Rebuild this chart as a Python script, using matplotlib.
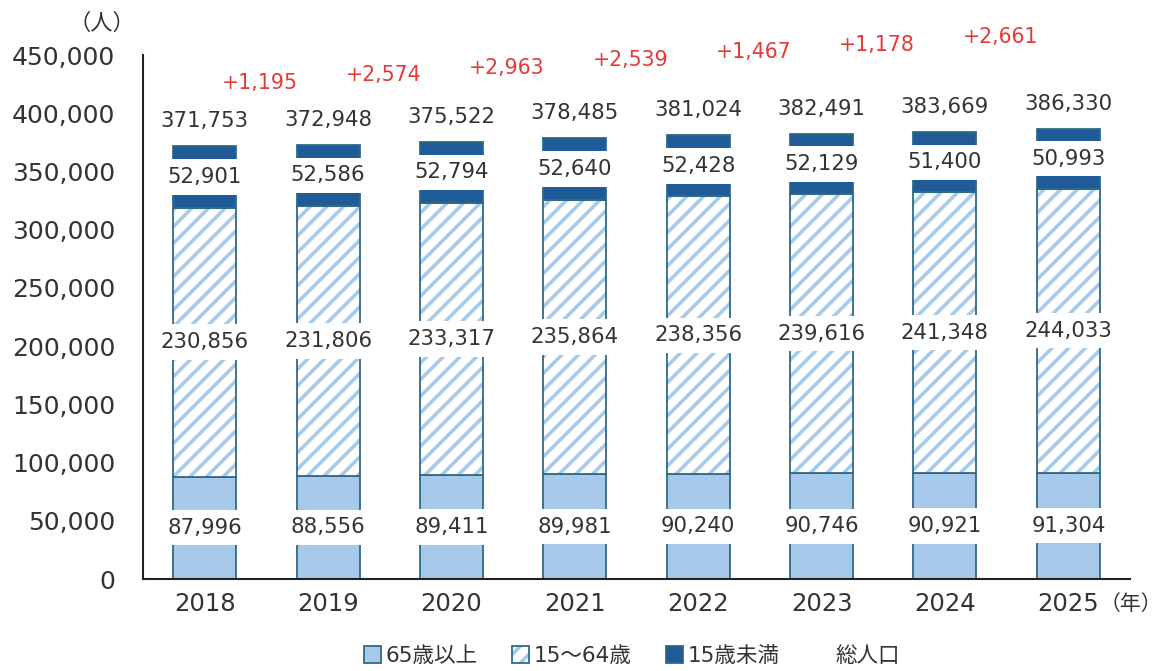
import matplotlib
matplotlib.use('Agg')
import matplotlib.pyplot as plt
from matplotlib.patches import Patch
from matplotlib.legend_handler import HandlerTuple
import numpy as np

plt.rcParams['font.family'] = ['DejaVu Sans', 'Noto Sans CJK JP']
plt.rcParams['hatch.linewidth'] = 2.6

# ---- data ----
years = ['2018', '2019', '2020', '2021', '2022', '2023', '2024', '2025']
age65_plus = [87996, 88556, 89411, 89981, 90240, 90746, 90921, 91304]
age15_64 = [230856, 231806, 233317, 235864, 238356, 239616, 241348, 244033]
under15 = [52901, 52586, 52794, 52640, 52428, 52129, 51400, 50993]
totals = [371753, 372948, 375522, 378485, 381024, 382491, 383669, 386330]
changes = [1195, 2574, 2963, 2539, 1467, 1178, 2661]
yticks = [0, 50000, 100000, 150000, 200000, 250000, 300000, 350000, 400000, 450000]
legend_labels = ['65歳以上', '15～64歳', '15歳未満', '総人口']

# ---- style ----
C_LIGHT = '#A7CAEA'
C_DARK = '#1F5B96'
C_EDGE = '#2E6A88'
C_TEXT = '#333333'
C_RED = '#E53935'

fig = plt.figure(figsize=(11.61, 6.71), dpi=100)
ax = fig.add_axes([0.1232, 0.1371, 0.8501, 0.7809])

x = np.arange(len(years))
w = 0.51
a = np.array(age65_plus)
b = np.array(age15_64)
c = np.array(under15)

ax.bar(x, a, w, color=C_LIGHT, edgecolor=C_EDGE, linewidth=1.3, zorder=2)
ax.bar(x, b, w, bottom=a, color='white', edgecolor=C_LIGHT, hatch='//',
       linewidth=0, zorder=2)
ax.bar(x, b, w, bottom=a, fill=False, edgecolor=C_EDGE, linewidth=1.3, zorder=2.1)
ax.bar(x, c, w, bottom=a + b, color=C_DARK, edgecolor=C_EDGE, linewidth=1.3, zorder=2)

box = dict(boxstyle='square,pad=0.36', fc='white', ec='none')
for i in range(len(years)):
    ax.text(x[i], a[i] / 2, f'{a[i]:,}', ha='center', va='center', fontsize=15.3,
            color=C_TEXT, bbox=box, zorder=5)
    ax.text(x[i], a[i] + b[i] / 2, f'{b[i]:,}', ha='center', va='center', fontsize=15.3,
            color=C_TEXT, bbox=box, zorder=5)
    ax.text(x[i], a[i] + b[i] + c[i] / 2, f'{c[i]:,}', ha='center', va='center',
            fontsize=15.3, color=C_TEXT, bbox=box, zorder=5)
    ax.annotate(f'{totals[i]:,}', xy=(x[i], totals[i]), xytext=(0, 18),
                textcoords='offset points', ha='center', va='center', fontsize=15.3,
                color=C_TEXT, zorder=5, annotation_clip=False)

for i, d in enumerate(changes):
    ax.text(x[i] + 0.45, 426000 + i * 6600, f'+{d:,}', ha='center', va='center',
            fontsize=14.8, color=C_RED, clip_on=False)

ax.set_xlim(-0.5, 7.5)
ax.set_ylim(0, 450000)
ax.set_yticks(yticks)
ax.set_yticklabels([f'{v:,}' for v in yticks])
ax.set_xticks(x)
ax.set_xticklabels(years)
ax.tick_params(axis='y', length=0, pad=20, labelsize=18, labelcolor=C_TEXT)
ax.tick_params(axis='x', length=0, pad=9, labelsize=17.5, labelcolor=C_TEXT)
for s in ['top', 'right']:
    ax.spines[s].set_visible(False)
for s in ['left', 'bottom']:
    ax.spines[s].set_color('#222222')
    ax.spines[s].set_linewidth(1.5)

fig.text(102 / 1161, 1 - 23 / 671, '（人）', ha='center', va='center', fontsize=16,
         color=C_TEXT)
fig.text(1131 / 1161, 1 - 604 / 671, '（年）', ha='center', va='center', fontsize=15,
         color=C_TEXT)

h1 = Patch(facecolor=C_LIGHT, edgecolor=C_EDGE, linewidth=1.3)
h2 = (Patch(facecolor='white', edgecolor=C_LIGHT, hatch='//', linewidth=0),
      Patch(fill=False, edgecolor=C_EDGE, linewidth=1.3))
h3 = Patch(facecolor=C_DARK, edgecolor=C_EDGE, linewidth=1.3)
h4 = Patch(facecolor='none', edgecolor='none')
fig.legend([h1, h2, h3, h4], legend_labels, loc='center',
           bbox_to_anchor=(632 / 1161, 1 - 656 / 671), ncol=4, frameon=False,
           fontsize=15.5, handlelength=0.8, handleheight=0.8, handletextpad=0.2,
           columnspacing=1.6, handler_map={tuple: HandlerTuple(ndivide=1, pad=0)},
           labelcolor=C_TEXT)

fig.savefig('out.png', dpi=100)
